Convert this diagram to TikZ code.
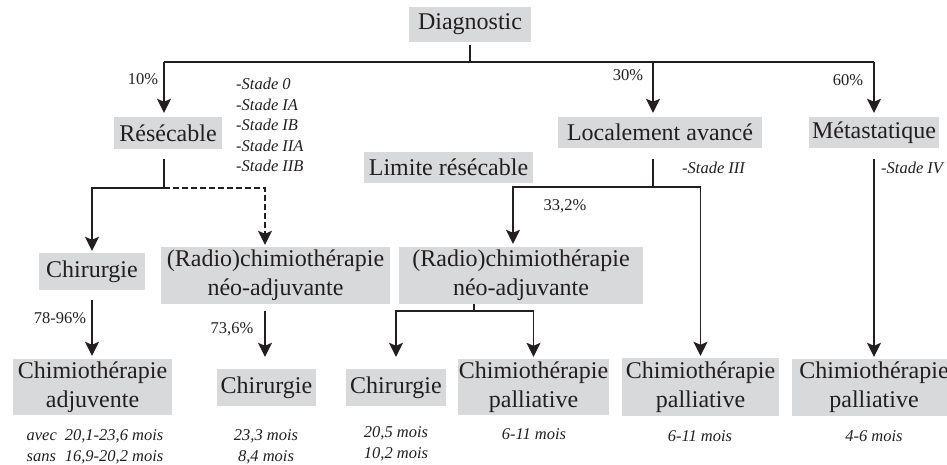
\documentclass[tikz,border=0pt]{standalone}
\usepackage{fontspec}
\setmainfont{LiberationSerif}[Extension=.ttf, UprightFont=*-Regular, ItalicFont=*-Italic, BoldFont=*-Bold, BoldItalicFont=*-BoldItalic]
\usetikzlibrary{arrows.meta}
\definecolor{boxgray}{RGB}{216,217,219}
\definecolor{ink}{RGB}{35,31,32}
\begin{document}
\begin{tikzpicture}[x=1pt,y=-1pt,
  box/.style={fill=boxgray, text=ink, inner sep=0pt, align=center, font=\fontsize{24}{29}\selectfont},
  ln/.style={draw=ink, line width=1.8pt},
  arr/.style={ln, -{Stealth[length=14pt,width=14pt,inset=3pt]}},
  lbl/.style={text=ink, inner sep=0pt, font=\fontsize{16.5}{20}\selectfont},
  ilbl/.style={text=ink, inner sep=0pt, align=center, font=\fontsize{16.5}{20.5}\selectfont\itshape}]
\useasboundingbox (0,0) rectangle (947,465);
\clip (0,0) rectangle (947,465);

% boxes
\node[box, minimum width=122pt, minimum height=35pt] (diag) at (470,24.5) {Diagnostic};
\node[box, minimum width=108pt, minimum height=32pt] (res) at (168,133) {Résécable};
\node[box, minimum width=204pt, minimum height=31pt] (loc) at (660,132.5) {Localement avancé};
\node[box, minimum width=130pt, minimum height=31pt] (meta) at (874,132.5) {Métastatique};
\node[box, minimum width=169pt, minimum height=31pt] (lim) at (448.5,167.5) {Limite résécable};
\node[box, minimum width=106pt, minimum height=37pt] (chir1) at (92,271.5) {Chirurgie};
\node[box, minimum width=229pt, minimum height=57pt] (radio1) at (275.5,275.5) {(Radio)chimiothérapie\\néo-adjuvante};
\node[box, minimum width=244pt, minimum height=57pt] (radio2) at (521,275.5) {(Radio)chimiothérapie\\néo-adjuvante};
\node[box, minimum width=159pt, minimum height=56pt] (chadj) at (92.5,387) {Chimiothérapie\\adjuvente};
\node[box, minimum width=99pt, minimum height=37pt] (chir2) at (266.5,387.5) {Chirurgie};
\node[box, minimum width=100pt, minimum height=37pt] (chir3) at (396,387.5) {Chirurgie};
\node[box, minimum width=151pt, minimum height=56pt] (pal1) at (533.5,387) {Chimiothérapie\\palliative};
\node[box, minimum width=157pt, minimum height=58pt] (pal2) at (700.5,387) {Chimiothérapie\\palliative};
\node[box, minimum width=164pt, minimum height=57pt] (pal3) at (874,387.5) {Chimiothérapie\\palliative};

% top distribution
\coordinate (hb) at (468,62);
\draw[ln, shorten <=3pt] (diag.south) -- (diag.south |- hb);
\draw[ln] ([xshift=-4pt]res.north |- hb) -- (meta.north |- hb);
\draw[arr, shorten >=4pt] ([xshift=-4pt]res.north |- hb) -- ([xshift=-4pt]res.north);
\draw[arr, shorten >=4pt] ([xshift=-7pt]loc.north |- hb) -- ([xshift=-7pt]loc.north);
\draw[arr, shorten >=4pt] (meta.north |- hb) -- (meta.north);
\node[lbl] (p10) at (143,79) {10\%};
\node[lbl] (p30) at (628,75) {30\%};
\node[lbl] (p60) at (848,80) {60\%};

% stades
\node[ilbl, align=left, anchor=west] (stades) at (236,125) {-Stade 0\\-Stade IA\\-Stade IB\\-Stade IIA\\-Stade IIB};
\node[ilbl, anchor=west] (s3) at (682,168) {-Stade III};
\node[ilbl, anchor=west] (s4) at (881,168) {-Stade IV};

% resecable branch
\coordinate (rb) at (164,188);
\draw[ln, shorten <=10pt] ([xshift=-4pt]res.south) -- ([xshift=-4pt]res.south |- rb);
\draw[arr, shorten >=2pt] ([xshift=-4pt]res.south |- rb) -| (chir1.north);
\draw[ln, dashed, dash pattern=on 6pt off 3pt] ([xshift=-4pt]res.south |- rb) -| ([xshift=-10.5pt]radio1.north |- rb) -- ([xshift=-10.5pt]radio1.north |- 0,236);
\draw[arr, shorten >=2pt] ([xshift=-10.5pt]radio1.north |- 0,234) -- ([xshift=-10.5pt]radio1.north);
\draw[arr, shorten <=10pt, shorten >=3pt] (chir1.south) -- (chir1.south |- chadj.north);
\node[lbl] (p78) at (60,318) {78-96\%};
\draw[arr, shorten <=7pt, shorten >=12pt] ([xshift=-10.5pt]radio1.south) -- ([xshift=-10.5pt]radio1.south |- chir2.north);
\node[lbl] (p73) at (232,329) {73,6\%};

% localement branch
\coordinate (lb) at (653,187);
\draw[ln, shorten <=11pt] ([xshift=-7pt]loc.south) -- ([xshift=-7pt]loc.south |- lb);
\draw[arr, shorten >=3pt] ([xshift=-7pt]loc.south |- lb) -| ([xshift=-8pt]radio2.north);
\draw[arr, shorten >=2pt] ([xshift=-7pt]loc.south |- lb) -| (pal2.north);
\node[lbl] (p33) at (565,206) {33,2\%};

% radio2 branch
\coordinate (r2b) at (474,311);
\draw[ln] ([xshift=-47pt]radio2.south) -- ([xshift=-47pt]radio2.south |- r2b);
\draw[arr, shorten >=12pt] ([xshift=-47pt]radio2.south |- r2b) -| (chir3.north);
\draw[arr, shorten >=2pt] ([xshift=-47pt]radio2.south |- r2b) -| (pal1.north);

% metastatique
\draw[arr, shorten <=11pt, shorten >=2pt] (meta.south) -- (pal3.north);

% survival texts
\node[ilbl] (t1) at (95,447) {\begin{tabular}{@{}l@{\hspace{8pt}}l@{}}avec & 20,1-23,6 mois\\ sans & 16,9-20,2 mois\end{tabular}};
\node[ilbl] (t2) at (266,447) {23,3 mois\\8,4 mois};
\node[ilbl] (t3) at (396,444) {20,5 mois\\10,2 mois};
\node[ilbl] (t4) at (534,434) {6-11 mois};
\node[ilbl] (t5) at (700,436) {6-11 mois};
\node[ilbl] (t6) at (874,436) {4-6 mois};
\end{tikzpicture}
\end{document}
